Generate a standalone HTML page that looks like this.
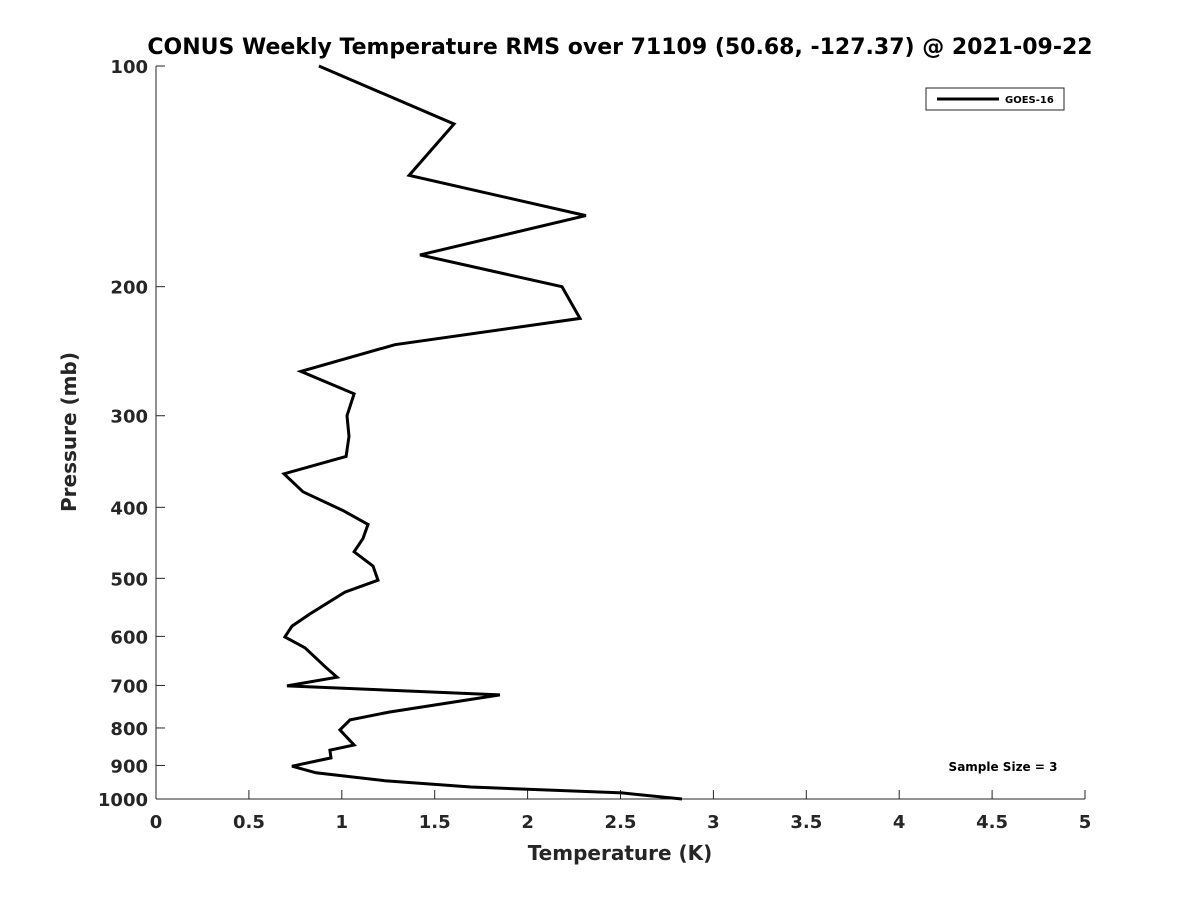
<!DOCTYPE html>
<html><head><meta charset="utf-8"><style>
body{margin:0;background:#fff;}
svg{display:block;font-family:"DejaVu Sans","Liberation Sans",sans-serif;}
</style></head><body>
<svg id="chart" width="1200" height="900" viewBox="0 0 1200 900">
<rect width="1200" height="900" fill="#fff"/>
<text x="620" y="54" text-anchor="middle" font-size="22" font-weight="bold" fill="#000">CONUS Weekly Temperature RMS over 71109 (50.68, -127.37) @ 2021-09-22</text>
<g id="axes"></g>
<path id="line" fill="none" stroke="#000" stroke-width="3" stroke-linejoin="miter"/>
<text x="620" y="860" text-anchor="middle" font-size="20" font-weight="bold" fill="#262626">Temperature (K)</text>
<text transform="translate(76,432) rotate(-90)" text-anchor="middle" font-size="20" font-weight="bold" fill="#262626">Pressure (mb)</text>
<g>
<rect x="926" y="88" width="138" height="22" fill="#fff" stroke="#262626" stroke-width="1"/>
<line x1="937" y1="99" x2="999" y2="99" stroke="#000" stroke-width="3"/>
<text x="1005" y="103" font-size="10" font-weight="bold" fill="#000">GOES-16</text>
</g>
<text x="1003" y="771" text-anchor="middle" font-size="12" font-weight="bold" fill="#000">Sample Size = 3</text>
</svg>
<script>
const pressures=[100,120,141,160,181,200,221,240,261,280,300,320,341,360,381,404,422,441,460,481,503,522,559,581,601,622,660,682,701,721,761,780,805,844,858,879,902,921,944,963,981,1000];
const rms=[0.877,1.604,1.362,2.314,1.421,2.185,2.282,1.286,0.780,1.066,1.028,1.039,1.023,0.689,0.791,1.006,1.141,1.114,1.066,1.168,1.195,1.017,0.829,0.732,0.694,0.802,0.910,0.974,0.705,1.851,1.254,1.044,0.990,1.066,0.936,0.942,0.732,0.861,1.232,1.695,2.508,2.831];
const xTicks=[0,0.5,1,1.5,2,2.5,3,3.5,4,4.5,5];
const yTicks=[100,200,300,400,500,600,700,800,900,1000];
const X0=156,X1=1085,Y0=66,Y1=799;
const xs=v=>X0+(v/5)*(X1-X0);
const ys=p=>Y0+(Math.log10(p)-2)*(Y1-Y0);
const NS="http://www.w3.org/2000/svg";
const ax=document.getElementById('axes');
function mk(t,a){const e=document.createElementNS(NS,t);for(const k in a)e.setAttribute(k,a[k]);return e;}
const xl=mk('line',{x1:X0,y1:Y1,x2:X1,y2:Y1,stroke:'#262626','stroke-width':1});


ax.appendChild(xl);
const yl=mk('line',{x1:X0,y1:Y0,x2:X0,y2:Y1,stroke:'#262626','stroke-width':1});


ax.appendChild(yl);
xTicks.forEach(t=>{
 const x=xs(t);
 const tk=mk('line',{x1:x,y1:Y1,x2:x,y2:Y1-9,stroke:'#262626','stroke-width':1});
 
 
 ax.appendChild(tk);
 const tx=mk('text',{x:x,y:Y1+29,'text-anchor':'middle','font-size':18,'font-weight':'bold',fill:'#262626'});
 tx.textContent=String(t);
 
 
 ax.appendChild(tx);
});
yTicks.forEach(t=>{
 const y=ys(t);
 const tk=mk('line',{x1:X0,y1:y,x2:X0+9,y2:y,stroke:'#262626','stroke-width':1});
 
 
 ax.appendChild(tk);
 const tx=mk('text',{x:X0-8,y:y+7,'text-anchor':'end','font-size':18,'font-weight':'bold',fill:'#262626'});
 tx.textContent=String(t);
 
 
 ax.appendChild(tx);
});
document.getElementById('line').setAttribute('d',rms.map((v,i)=>(i?'L':'M')+xs(v).toFixed(1)+','+ys(pressures[i]).toFixed(1)).join(' '));
</script>
</body></html>
